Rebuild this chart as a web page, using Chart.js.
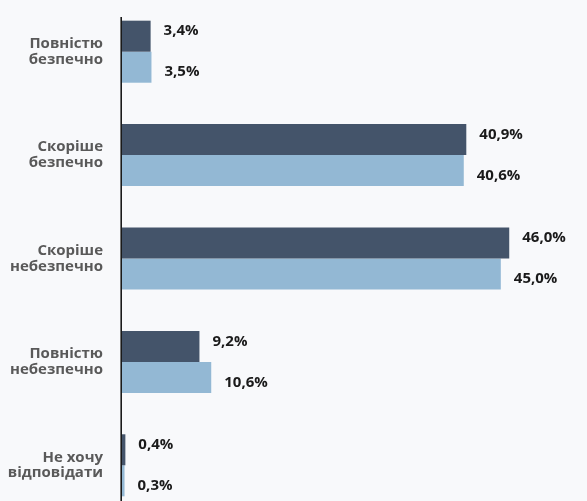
<!DOCTYPE html>
<html>
<head>
<meta charset="utf-8">
<script src="https://cdn.jsdelivr.net/npm/chart.js@4/dist/chart.umd.min.js"></script>
<style>
  html, body { margin: 0; padding: 0; background: #f8f9fb; overflow: hidden; }
  #wrap { position: relative; width: 587px; height: 517px; }
</style>
</head>
<body>
<div id="wrap"><canvas id="chart"></canvas></div>
<script>
  // categories and the two survey waves
  const categories = [
    ['Повністю', 'безпечно'],
    ['Скоріше', 'безпечно'],
    ['Скоріше', 'небезпечно'],
    ['Повністю', 'небезпечно'],
    ['Не хочу', 'відповідати']
  ];
  const seriesA = [3.4, 40.9, 46.0, 9.2, 0.4];
  const seriesB = [3.5, 40.6, 45.0, 10.6, 0.3];

  const fmt = v => v.toFixed(1).replace('.', ',') + '%';

  // value labels right of each bar, pushed apart a little like the original
  const valueLabels = {
    id: 'valueLabels',
    afterDatasetsDraw(chart) {
      const ctx = chart.ctx;
      ctx.save();
      ctx.font = 'bold 15px "Open Sans"';
      ctx.fillStyle = '#1a1a1a';
      ctx.textAlign = 'left';
      ctx.textBaseline = 'middle';
      chart.data.datasets.forEach((ds, i) => {
        const shift = i === 0 ? -5 : 5;
        chart.getDatasetMeta(i).data.forEach((bar, j) => {
          ctx.fillText(fmt(ds.data[j]), bar.x + 13, bar.y + shift);
        });
      });
      ctx.restore();
    }
  };

  // vertical axis line, starting a bit below the top
  const axisLine = {
    id: 'axisLine',
    afterDatasetsDraw(chart) {
      const a = chart.chartArea;
      const ctx = chart.ctx;
      ctx.save();
      ctx.strokeStyle = '#1a1a1a';
      ctx.lineWidth = 1.6;
      ctx.beginPath();
      ctx.moveTo(a.left - 0.8, a.top + 17);
      ctx.lineTo(a.left - 0.8, a.bottom);
      ctx.stroke();
      ctx.restore();
    }
  };

  new Chart(document.getElementById('chart'), {
    type: 'bar',
    data: {
      labels: categories,
      datasets: [
        { data: seriesA, backgroundColor: '#44546a' },
        { data: seriesB, backgroundColor: '#93b8d4' }
      ]
    },
    options: {
      indexAxis: 'y',
      responsive: true,
      maintainAspectRatio: false,
      animation: false,
      categoryPercentage: 0.6,
      barPercentage: 1.0,
      layout: { padding: { top: 0, bottom: 0, left: 0, right: 2 } },
      plugins: { legend: { display: false }, tooltip: { enabled: false } },
      scales: {
        x: { display: false, min: 0, max: 55 },
        y: {
          grid: { display: false, drawTicks: false },
          border: { display: false },
          ticks: {
            padding: 19,
            color: '#595959',
            font: { family: '"Open Sans"', size: 15, weight: 'bold', lineHeight: 1.05 }
          },
          afterFit(scale) {
            scale.width = 122;
            scale.paddingTop = 0;
            scale.paddingBottom = 0;
          }
        }
      }
    },
    plugins: [valueLabels, axisLine]
  });
</script>
</body>
</html>
